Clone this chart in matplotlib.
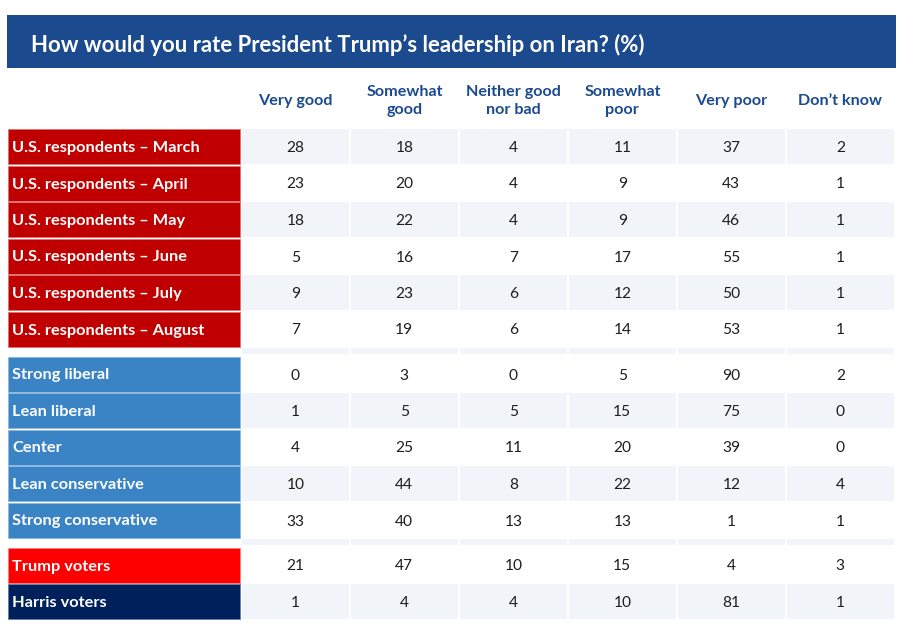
#-------------------------------------------------------------------------
# Imports
import matplotlib
matplotlib.use("Agg")
import matplotlib.pyplot as plt
from matplotlib.patches import Rectangle
from matplotlib import font_manager as fm

#-------------------------------------------------------------------------
# Data

title = "How would you rate President Trump\u2019s leadership on Iran? (%)"

col_headers = ["Very good", "Somewhat\ngood", "Neither good\nnor bad",
               "Somewhat\npoor", "Very poor", "Don\u2019t know"]

row_labels = ["U.S. respondents \u2013 March", "U.S. respondents \u2013 April",
              "U.S. respondents \u2013 May", "U.S. respondents \u2013 June",
              "U.S. respondents \u2013 July", "U.S. respondents \u2013 August",
              "Strong liberal", "Lean liberal", "Center",
              "Lean conservative", "Strong conservative",
              "Trump voters", "Harris voters"]

group_sizes = [6, 5, 2]

very_good     = [28, 23, 18,  5,  9,  7,  0,  1,  4, 10, 33, 21,  1]
somewhat_good = [18, 20, 22, 16, 23, 19,  3,  5, 25, 44, 40, 47,  4]
neither       = [ 4,  4,  4,  7,  6,  6,  0,  5, 11,  8, 13, 10,  4]
somewhat_poor = [11,  9,  9, 17, 12, 14,  5, 15, 20, 22, 13, 15, 10]
very_poor     = [37, 43, 46, 55, 50, 53, 90, 75, 39, 12,  1,  4, 81]
dont_know     = [ 2,  1,  1,  1,  1,  1,  2,  0,  0,  4,  1,  3,  1]

columns = [very_good, somewhat_good, neither, somewhat_poor, very_poor, dont_know]

#-------------------------------------------------------------------------
# Font choice: first family that really has a bold face installed

font = ["DejaVu Sans"]
for fam in ["Lato", "Open Sans", "Inter", "Liberation Sans"]:
    try:
        path = fm.findfont(fm.FontProperties(family=fam, weight="bold"),
                           fallback_to_default=False)
    except Exception:
        continue
    if "bold" in path.lower():
        font = [fam, "DejaVu Sans"]
        break

#-------------------------------------------------------------------------
# Style parameters

W, H = 919, 632

title_bg    = "#1c4a8f"
header_col  = "#1c4a8f"
shade_col   = "#f1f5fa"
num_col     = "#1e1e1e"
red_col     = "#c00000"
blue_col    = "#3a83c5"
trump_col   = "#ff0000"
harris_col  = "#00205b"
label_cols  = [red_col] * 6 + [blue_col] * 5 + [trump_col, harris_col]
label_edges = ["#e07070"] * 6 + ["#8db8e0"] * 5 + ["#ff8080", "#6a7fa8"]

label_x0, label_x1 = 8, 240
col_x0    = 241.7
col_pitch = 109
col_w     = 107.3
row_y0    = 129
row_pitch = 36.5
row_h     = 35
sep_h     = 6.3
sep_gap   = 2.2

#-------------------------------------------------------------------------
# Figure

fig = plt.figure(figsize=(W / 100, H / 100), dpi=100)
ax = fig.add_axes([0, 0, 1, 1])
ax.set_xlim(0, W)
ax.set_ylim(H, 0)
ax.axis("off")
renderer = fig.canvas.get_renderer()


def fit_size(txt, target_px, weight):
    # font size that makes txt about target_px wide
    t = ax.text(0, 0, txt, fontsize=10, fontweight=weight, family=font)
    w = t.get_window_extent(renderer).width
    t.remove()
    return 10 * target_px / w


title_fs = fit_size(title, 616, "bold")
header_fs = fit_size("Very good", 75, "bold")
label_fs = fit_size("U.S. respondents \u2013 March", 189, "bold")
num_fs = fit_size("28", 18, "normal")

# title bar
ax.add_patch(Rectangle((7, 15), 889, 53, facecolor=title_bg, edgecolor="none"))
ax.text(31, 44.5, title, color="white", fontsize=title_fs, fontweight="bold",
        family=font, va="center", ha="left")

# column headers
for j, hdr in enumerate(col_headers):
    cx = col_x0 + j * col_pitch + col_w / 2
    ax.text(cx, 101, hdr, color=header_col, fontsize=header_fs, fontweight="bold",
            family=font, ha="center", va="center", linespacing=1.32)

# rows
y = row_y0
gidx = 0   # global index (rows + separators) for alternate shading
i = 0
for g, size in enumerate(group_sizes):
    if g > 0:
        # separator strip
        for j in range(len(columns)):
            ax.add_patch(Rectangle((col_x0 + j * col_pitch, y), col_w, sep_h,
                                   facecolor=shade_col, edgecolor="none"))
        y += sep_h + sep_gap
        gidx += 1
    for k in range(size):
        ax.add_patch(Rectangle((label_x0, y), label_x1 - label_x0, row_h,
                               facecolor=label_cols[i], edgecolor=label_edges[i],
                               linewidth=0.6))
        ax.text(label_x0 + 4.5, y + row_h / 2 + 1.5, row_labels[i], color="white",
                fontsize=label_fs, fontweight="bold", family=font,
                ha="left", va="center")
        for j, col in enumerate(columns):
            x = col_x0 + j * col_pitch
            if gidx % 2 == 0:
                ax.add_patch(Rectangle((x, y), col_w, row_h,
                                       facecolor=shade_col, edgecolor="none"))
            ax.text(x + col_w / 2, y + row_h / 2 + 1.5, str(col[i]), color=num_col,
                    fontsize=num_fs, family=font, ha="center", va="center")
        y += row_pitch
        gidx += 1
        i += 1

#-------------------------------------------------------------------------
# Saving Plot

fig.savefig("out.png", dpi=100)
